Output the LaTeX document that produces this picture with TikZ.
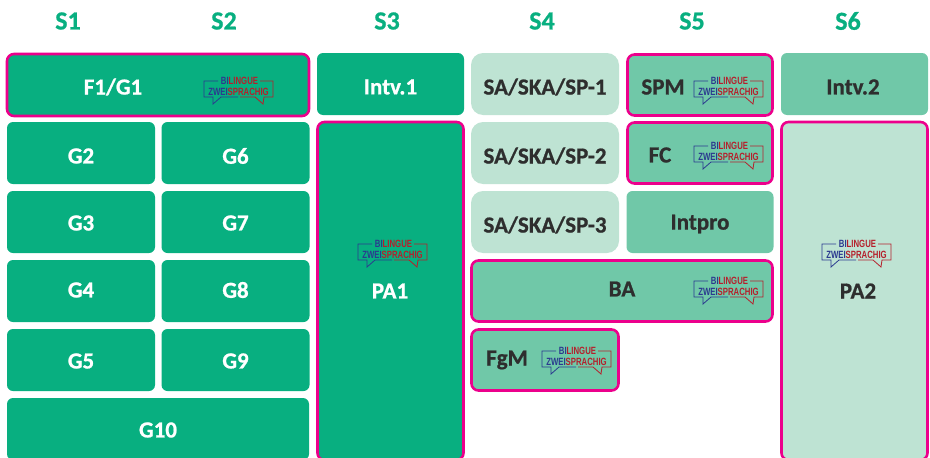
\documentclass[tikz,border=0pt]{standalone}
\usepackage{fontspec}
\setmainfont{Carlito}[BoldFeatures={FakeBold=0.8}]
\newfontfamily\logofont{Liberation Sans}
\definecolor{gdark}{HTML}{08AF80}
\definecolor{gmid}{HTML}{70C8A8}
\definecolor{glight}{HTML}{BEE3D3}
\definecolor{mypink}{HTML}{EC008C}
\definecolor{logoblue}{HTML}{2B3A8F}
\definecolor{logored}{HTML}{B5202C}
\definecolor{txtdark}{HTML}{2E2E2E}
\newcommand{\logotxt}[2]{\scalebox{.74}[1]{\logofont\bfseries\fontsize{10.5}{10.5}\selectfont\textcolor{logoblue}{#1}\textcolor{logored}{#2}}}
\tikzset{
	cell/.style n args={2}{draw=none,rounded corners=6pt,inner sep=0pt,minimum width=#1,minimum height=#2},
	dark/.style={fill=gdark,text=white},
	mid/.style={fill=gmid,text=txtdark},
	light/.style={fill=glight,text=txtdark},
	ring/.style={draw=mypink,line width=2.6pt,rounded corners=7pt},
	head/.style={text=gdark,font=\fontsize{26}{26}\selectfont\bfseries},
	lab/.style={font=\fontsize{23}{23}\selectfont\bfseries},
	bilogo/.pic={
		\draw[logoblue,line width=.8pt](-20,-9)--(-34,-9)--(-34,7)--(-25,7)--(-25,14)--(-17,7)--(0,7);
		\draw[logored,line width=.8pt](22,-9)--(35,-9)--(35,7)--(26,7)--(25,14)--(17,7)--(2,7);
		\node[anchor=base,inner sep=0pt] (-top) at (1.5,-5.5) {\logotxt{BI}{LINGUE}};
		\node[anchor=base,inner sep=0pt] (-bot) at (.5,5.5) {\logotxt{ZWEI}{SPRACHIG}};
	}
}
\begin{document}
\begin{tikzpicture}[x=1pt,y=-1pt,lab]
	\useasboundingbox (0,0) rectangle (930,458);
	% headers
	\foreach \n/\x in {S1/68,S2/224,S3/387,S4/542,S5/692,S6/848}
		\node[head] (\n) at (\x,21) {\n};
	% first column block
	\node[cell={302pt}{62pt},dark,ring] (f1g1) at (158,85) {};
	\node[text=white] (f1g1txt) at (113,87) {F1/G1};
	\foreach \n/\x/\y/\ty in {G2/81/153/156,G6/235.5/153/156,G3/81/222/223,G7/235.5/222/223,G4/81/291/290,G8/235.5/291/290,G5/81/360/361,G9/235.5/360/361}{
		\node[cell={148pt}{62pt},dark] (\n) at (\x,\y) {};
		\node[text=white] (\n txt) at (\x,\ty) {\n};
	}
	\node[cell={302pt}{62pt},dark] (G10) at (158,429) {};
	\node[text=white] (G10txt) at (158,430) {G10};
	% S3
	\node[cell={147pt}{62pt},dark] (intv1) at (390.5,84) {};
	\node[text=white] (intv1txt) at (390.5,87) {Intv.1};
	\node[cell={146pt}{338pt},dark,ring] (pa1) at (390.5,291) {};
	\node[text=white] (pa1txt) at (390,291) {PA1};
	% S4
	\foreach \n/\y in {sa1/84,sa2/153,sa3/222}
		\node[cell={148pt}{62pt},light,rounded corners=12pt] (\n) at (545,\y) {};
	\node[text=txtdark] (sa1txt) at (545,87) {SA/SKA/SP-1};
	\node[text=txtdark] (sa2txt) at (545,156) {SA/SKA/SP-2};
	\node[text=txtdark] (sa3txt) at (545,225) {SA/SKA/SP-3};
	\node[cell={301pt}{61pt},mid,ring] (ba) at (622,291) {};
	\node[text=txtdark] (batxt) at (622,289) {BA};
	\node[cell={147pt}{61pt},mid,ring] (fgm) at (545,360) {};
	\node[text=txtdark] (fgmtxt) at (507,360) {FgM};
	% S5
	\node[cell={145pt}{61pt},mid,ring] (spm) at (700,85) {};
	\node[text=txtdark] (spmtxt) at (663,87) {SPM};
	\node[cell={145pt}{61pt},mid,ring] (fc) at (700,153) {};
	\node[text=txtdark] (fctxt) at (660,155) {FC};
	\node[cell={147pt}{62pt},mid] (intpro) at (700,222) {};
	\node[text=txtdark] (intprotxt) at (700,224) {Intpro};
	% S6
	\node[cell={147pt}{62pt},mid] (intv2) at (854.5,84) {};
	\node[text=txtdark] (intv2txt) at (853,87) {Intv.2};
	\node[cell={146pt}{338pt},light,ring] (pa2) at (854.5,291) {};
	\node[text=txtdark] (pa2txt) at (858,291) {PA2};
	% logos
	\foreach \n/\x/\y in {l1/238/90,l2/392/253,l3/728/90,l4/728/155,l5/728/290,l6/576/360,l7/856/253}
		\pic (\n) at (\x,\y) {bilogo};
\end{tikzpicture}
\end{document}
